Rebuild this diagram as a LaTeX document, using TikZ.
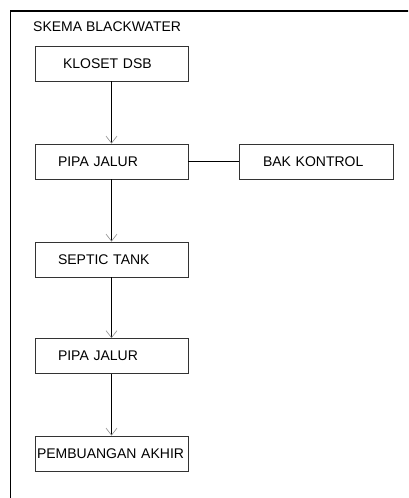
\documentclass[tikz,border=0pt]{standalone}
\usepackage{fontspec}
\setmainfont{Liberation Sans}
\usetikzlibrary{arrows.meta,positioning}
\tikzset{
  kotak/.style={draw=black!80,line width=0.8pt,minimum height=35pt,
    inner xsep=23pt,text width=107pt,align=left,font=\fontsize{14}{16}\selectfont},
  panah/.style={line width=0.8pt,-{Straight Barb[length=7pt,width=11pt,color=black!45,line width=0.6pt]}}
}
\begin{document}
\begin{tikzpicture}[x=1pt,y=-1pt]
\useasboundingbox (0,0) rectangle (408,498);
\clip (0,0) rectangle (408,498);
\fill[white] (0,0) rectangle (408,498);
\draw[line width=1.5pt] (10.5,11) rectangle (430,520);
\node[anchor=base west,inner sep=0pt,font=\fontsize{14}{16}\selectfont] (judul) at (33,31.5) {SKEMA BLACKWATER};
\node[kotak,inner xsep=28pt,text width=97pt] (kloset) at (111.5,63.5) {KLOSET DSB};
\node[kotak] (pipa1) at (111.5,161.5) {PIPA JALUR};
\node[kotak,inner xsep=24pt,text width=106pt] (bak) at (316,161.5) {BAK KONTROL};
\node[kotak] (septic) at (111.5,259.5) {SEPTIC TANK};
\node[kotak] (pipa2) at (111.5,356) {PIPA JALUR};
\node[kotak,inner xsep=2pt,text width=149pt] (buang) at (111.5,453.5) {PEMBUANGAN AKHIR};
\draw[panah] (kloset) -- (pipa1);
\draw[line width=0.8pt] (pipa1) -- (bak);
\draw[panah] (pipa1) -- (septic);
\draw[panah] (septic) -- (pipa2);
\draw[panah] (pipa2) -- (buang);
\end{tikzpicture}
\end{document}
